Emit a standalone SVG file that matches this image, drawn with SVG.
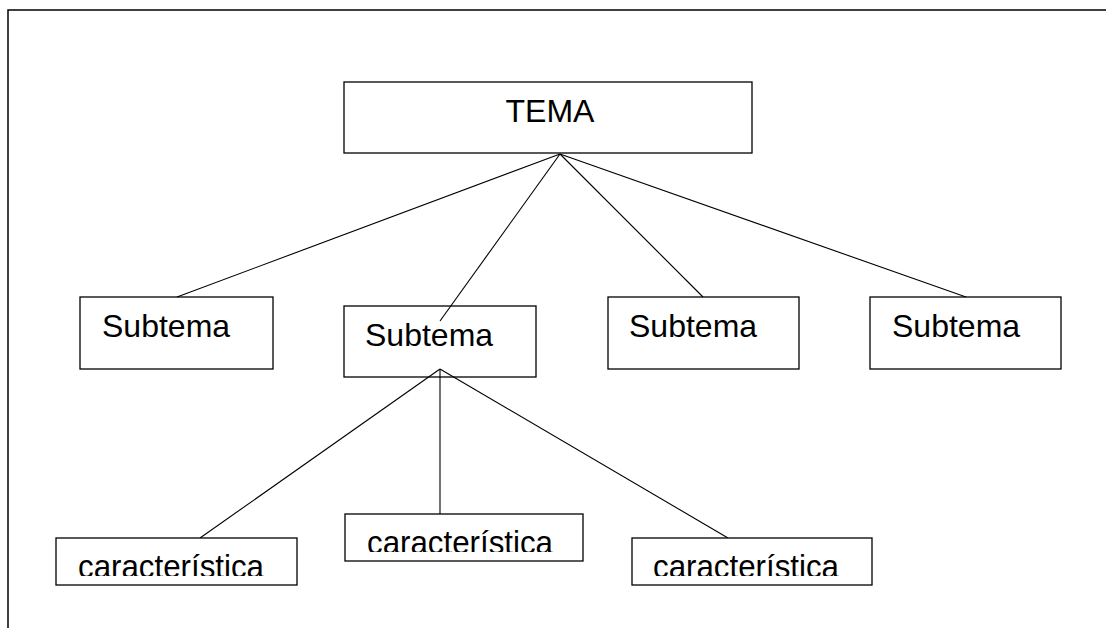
<svg xmlns="http://www.w3.org/2000/svg" width="1106" height="628" viewBox="0 0 1106 628">
<style>
.box{fill:#fff;stroke:#000;stroke-width:1.3}
.lbl{font-family:"Liberation Sans",Arial,sans-serif;fill:#000}
.con line{stroke:#000;stroke-width:1.1}
.frame{stroke:#000;stroke-width:1.5;fill:none}
</style>
<defs>
<clipPath id="c1"><rect x="56" y="538" width="241" height="38"/></clipPath>
<clipPath id="c2"><rect x="345" y="514" width="238" height="38"/></clipPath>
<clipPath id="c3"><rect x="632" y="538" width="240" height="38"/></clipPath>
</defs>
<rect width="1106" height="628" fill="#fff"/>
<path class="frame" d="M8,628 V10 H1106"/>
<g id="tema"><rect class="box" x="344" y="82" width="408" height="71"/><text class="lbl" x="550" y="122" font-size="32" text-anchor="middle">TEMA</text></g>
<g id="subtema1"><rect class="box" x="80" y="297" width="193" height="72"/><text class="lbl" x="102" y="337" font-size="32">Subtema</text></g>
<g id="subtema2"><rect class="box" x="344" y="306" width="192" height="71"/><text class="lbl" x="365" y="346" font-size="32">Subtema</text></g>
<g id="subtema3"><rect class="box" x="608" y="297" width="191" height="72"/><text class="lbl" x="629" y="337" font-size="32">Subtema</text></g>
<g id="subtema4"><rect class="box" x="870" y="297" width="191" height="72"/><text class="lbl" x="892" y="337" font-size="32">Subtema</text></g>
<g class="con" id="connectors">
<line x1="560" y1="154" x2="177" y2="297"/>
<line x1="560" y1="154" x2="440" y2="321"/>
<line x1="560" y1="154" x2="703" y2="297"/>
<line x1="560" y1="154" x2="966" y2="297"/>
<line x1="440" y1="369" x2="200" y2="538"/>
<line x1="440" y1="369" x2="440" y2="514"/>
<line x1="440" y1="369" x2="728" y2="538"/>
</g>
<g id="car1"><rect class="box" x="56" y="538" width="241" height="47"/><text class="lbl" clip-path="url(#c1)" x="78" y="578" font-size="33" textLength="186" lengthAdjust="spacingAndGlyphs">característica</text></g>
<g id="car2"><rect class="box" x="345" y="514" width="238" height="47"/><text class="lbl" clip-path="url(#c2)" x="367" y="554" font-size="33" textLength="186" lengthAdjust="spacingAndGlyphs">característica</text></g>
<g id="car3"><rect class="box" x="632" y="538" width="240" height="47"/><text class="lbl" clip-path="url(#c3)" x="653" y="578" font-size="33" textLength="186" lengthAdjust="spacingAndGlyphs">característica</text></g>
</svg>
